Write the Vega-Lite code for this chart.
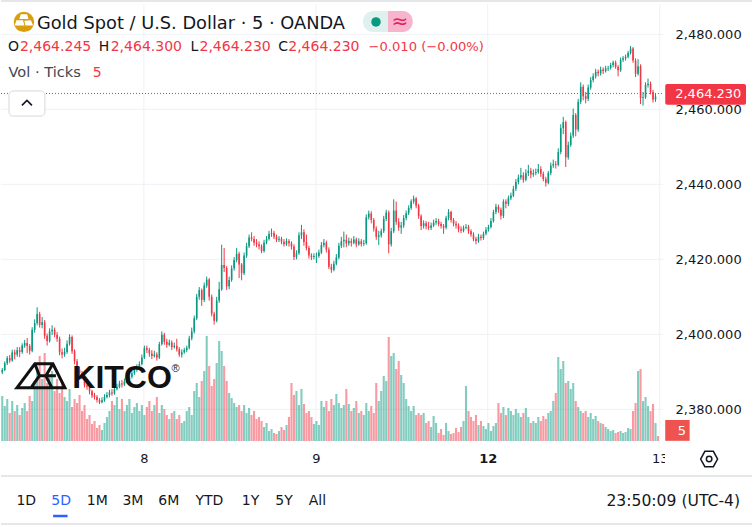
{"$schema":"https://vega.github.io/schema/vega-lite/v6.json","width":753,"height":527,"padding":0,"autosize":{"type":"fit","contains":"padding"},"background":"#ffffff","config":{"view":{"stroke":null},"text":{"font":"DejaVu Sans"},"axis":{"labelFont":"DejaVu Sans"}},
"datasets":{"bars":[
{"at":0.5,"o":2389.9,"h":2391,"l":2389.4,"c":2390.5,"v":45},{"at":1.5,"o":2390.5,"h":2392.8,"l":2390.2,"c":2392.3,"v":35},{"at":2.5,"o":2392.3,"h":2394.2,"l":2391.8,"c":2393.7,"v":42},{"at":3.5,"o":2393.7,"h":2394.5,"l":2392.4,"c":2393,"v":28},{"at":4.5,"o":2393,"h":2395.9,"l":2392.7,"c":2395.2,"v":40},{"at":5.5,"o":2395.2,"h":2395.9,"l":2393.3,"c":2394.6,"v":30},{"at":6.5,"o":2394.6,"h":2396.6,"l":2394,"c":2395.8,"v":36},{"at":7.5,"o":2395.8,"h":2396.6,"l":2393.9,"c":2395.3,"v":26},{"at":8.5,"o":2395.3,"h":2397.6,"l":2394.8,"c":2397,"v":33},{"at":9.5,"o":2397,"h":2398.5,"l":2396.4,"c":2397.7,"v":38},
{"at":10.5,"o":2397.7,"h":2399,"l":2395,"c":2396.9,"v":30},{"at":11.5,"o":2396.9,"h":2397.4,"l":2394.6,"c":2395.6,"v":45},{"at":12.5,"o":2395.6,"h":2401.9,"l":2395.2,"c":2401.2,"v":40},{"at":13.5,"o":2401.2,"h":2404,"l":2400.4,"c":2403,"v":60},{"at":14.5,"o":2403,"h":2407.2,"l":2402.4,"c":2405.4,"v":72},{"at":15.5,"o":2405.4,"h":2406,"l":2401.8,"c":2402.5,"v":85},{"at":16.5,"o":2402.5,"h":2404.6,"l":2401.6,"c":2403.2,"v":62},{"at":17.5,"o":2403.2,"h":2403.8,"l":2398.8,"c":2399.6,"v":88},{"at":18.5,"o":2399.6,"h":2400.2,"l":2397,"c":2398.2,"v":58},{"at":19.5,"o":2398.2,"h":2401.6,"l":2397.8,"c":2400.8,"v":64},
{"at":20.5,"o":2400.8,"h":2402.4,"l":2399.8,"c":2401.2,"v":70},{"at":21.5,"o":2401.2,"h":2401.8,"l":2399.2,"c":2399.9,"v":50},{"at":22.5,"o":2399.9,"h":2400.6,"l":2398,"c":2398.8,"v":62},{"at":23.5,"o":2398.8,"h":2399.4,"l":2394.4,"c":2395.2,"v":48},{"at":24.5,"o":2395.2,"h":2396.2,"l":2393.6,"c":2394.6,"v":58},{"at":25.5,"o":2394.6,"h":2396.4,"l":2394,"c":2395.3,"v":44},{"at":26.5,"o":2395.3,"h":2398.4,"l":2394.8,"c":2397.5,"v":40},{"at":27.5,"o":2397.5,"h":2400,"l":2397,"c":2399.3,"v":52},{"at":28.5,"o":2399.3,"h":2399.7,"l":2394.8,"c":2395.5,"v":34},{"at":29.5,"o":2395.5,"h":2396,"l":2392,"c":2392.8,"v":42},
{"at":30.5,"o":2392.8,"h":2393.4,"l":2390,"c":2390.6,"v":38},{"at":31.5,"o":2390.6,"h":2391.4,"l":2389,"c":2389.7,"v":46},{"at":32.5,"o":2389.7,"h":2390.2,"l":2388,"c":2388.6,"v":30},{"at":33.5,"o":2388.6,"h":2389,"l":2385.8,"c":2386.4,"v":36},{"at":34.5,"o":2386.4,"h":2387.2,"l":2385.2,"c":2386,"v":22},{"at":35.5,"o":2386,"h":2386.6,"l":2384,"c":2384.8,"v":26},{"at":36.5,"o":2384.8,"h":2385.2,"l":2383,"c":2383.7,"v":17},{"at":37.5,"o":2383.7,"h":2384.4,"l":2382.6,"c":2383.3,"v":20},{"at":38.5,"o":2383.3,"h":2383.8,"l":2381.8,"c":2382.5,"v":13},{"at":39.5,"o":2382.5,"h":2383,"l":2381.4,"c":2381.9,"v":16},
{"at":40.5,"o":2381.9,"h":2383.2,"l":2381.6,"c":2382.4,"v":11},{"at":41.5,"o":2382.4,"h":2384,"l":2382,"c":2383.3,"v":18},{"at":42.5,"o":2383.3,"h":2384.6,"l":2382.9,"c":2383.8,"v":24},{"at":43.5,"o":2383.8,"h":2385.2,"l":2383.2,"c":2384.5,"v":30},{"at":44.5,"o":2384.5,"h":2385.4,"l":2383.6,"c":2384.2,"v":40},{"at":45.5,"o":2384.2,"h":2386,"l":2383.9,"c":2385.4,"v":36},{"at":46.5,"o":2385.4,"h":2386.8,"l":2385,"c":2386,"v":44},{"at":47.5,"o":2386,"h":2387.6,"l":2385.6,"c":2386.9,"v":32},{"at":48.5,"o":2386.9,"h":2387.8,"l":2385.8,"c":2386.6,"v":42},{"at":49.5,"o":2386.6,"h":2388.2,"l":2386.2,"c":2387.4,"v":30},
{"at":50.5,"o":2387.4,"h":2388.6,"l":2387,"c":2387.8,"v":36},{"at":51.5,"o":2387.8,"h":2389.4,"l":2387.4,"c":2388.7,"v":42},{"at":52.5,"o":2388.7,"h":2390.4,"l":2388.2,"c":2389.6,"v":28},{"at":53.5,"o":2389.6,"h":2391.2,"l":2389.2,"c":2390.5,"v":34},{"at":54.5,"o":2390.5,"h":2392,"l":2390,"c":2391.2,"v":38},{"at":55.5,"o":2391.2,"h":2392.8,"l":2390.8,"c":2392.1,"v":30},{"at":56.5,"o":2392.1,"h":2394.6,"l":2391.7,"c":2393.8,"v":36},{"at":57.5,"o":2393.8,"h":2397,"l":2393.4,"c":2396.3,"v":26},{"at":58.5,"o":2396.3,"h":2397,"l":2395,"c":2395.8,"v":34},{"at":59.5,"o":2395.8,"h":2396.4,"l":2394,"c":2394.9,"v":40},
{"at":60.5,"o":2394.9,"h":2395.8,"l":2393.4,"c":2394.2,"v":30},{"at":61.5,"o":2394.2,"h":2395.6,"l":2393.8,"c":2394.6,"v":36},{"at":62.5,"o":2394.6,"h":2395.2,"l":2393,"c":2393.8,"v":44},{"at":63.5,"o":2393.8,"h":2398,"l":2393.4,"c":2397.4,"v":28},{"at":64.5,"o":2397.4,"h":2400.8,"l":2397,"c":2399.9,"v":36},{"at":65.5,"o":2399.9,"h":2400.4,"l":2397.2,"c":2398,"v":32},{"at":66.5,"o":2398,"h":2398.8,"l":2396.4,"c":2397.2,"v":26},{"at":67.5,"o":2397.2,"h":2398.6,"l":2396.8,"c":2397.8,"v":22},{"at":68.5,"o":2397.8,"h":2398.4,"l":2395.8,"c":2396.6,"v":28},{"at":69.5,"o":2396.6,"h":2397.8,"l":2396.2,"c":2396.9,"v":30},
{"at":70.5,"o":2396.9,"h":2398.8,"l":2395.4,"c":2396,"v":22},{"at":71.5,"o":2396,"h":2396.6,"l":2394,"c":2394.6,"v":26},{"at":72.5,"o":2394.6,"h":2396,"l":2393.8,"c":2395.2,"v":18},{"at":73.5,"o":2395.2,"h":2396.4,"l":2394.8,"c":2395.8,"v":20},{"at":74.5,"o":2395.8,"h":2397,"l":2395.2,"c":2396.4,"v":30},{"at":75.5,"o":2396.4,"h":2399.6,"l":2396,"c":2398.9,"v":34},{"at":76.5,"o":2398.9,"h":2401.8,"l":2398.4,"c":2400.8,"v":26},{"at":77.5,"o":2400.8,"h":2405,"l":2400.2,"c":2404.3,"v":50},{"at":78.5,"o":2404.3,"h":2410.8,"l":2403.8,"c":2410,"v":58},{"at":79.5,"o":2410,"h":2412.6,"l":2409.2,"c":2411.8,"v":44},
{"at":80.5,"o":2411.8,"h":2412.2,"l":2407.6,"c":2409.2,"v":60},{"at":81.5,"o":2409.2,"h":2413.8,"l":2408.6,"c":2413,"v":70},{"at":82.5,"o":2413,"h":2415.4,"l":2412.4,"c":2414.6,"v":105},{"at":83.5,"o":2414.6,"h":2415,"l":2409,"c":2410,"v":75},{"at":84.5,"o":2410,"h":2410.6,"l":2404.8,"c":2405.5,"v":55},{"at":85.5,"o":2405.5,"h":2406,"l":2402.6,"c":2403.6,"v":62},{"at":86.5,"o":2403.6,"h":2410,"l":2403.2,"c":2409,"v":78},{"at":87.5,"o":2409,"h":2414,"l":2408.4,"c":2412,"v":100},{"at":88.5,"o":2412,"h":2423.9,"l":2411.6,"c":2418.5,"v":90},{"at":89.5,"o":2418.5,"h":2423,"l":2416.6,"c":2417.7,"v":75},
{"at":90.5,"o":2417.7,"h":2418.2,"l":2411.8,"c":2412.8,"v":60},{"at":91.5,"o":2412.8,"h":2415.4,"l":2412,"c":2414.5,"v":48},{"at":92.5,"o":2414.5,"h":2418.4,"l":2414,"c":2417.6,"v":43},{"at":93.5,"o":2417.6,"h":2420.6,"l":2417,"c":2419.8,"v":38},{"at":94.5,"o":2419.8,"h":2423,"l":2419.2,"c":2421.5,"v":34},{"at":95.5,"o":2421.5,"h":2422,"l":2415,"c":2418.6,"v":36},{"at":96.5,"o":2418.6,"h":2419,"l":2414.4,"c":2416.3,"v":30},{"at":97.5,"o":2416.3,"h":2421.8,"l":2415.8,"c":2421,"v":36},{"at":98.5,"o":2421,"h":2424.4,"l":2420.4,"c":2423.5,"v":28},{"at":99.5,"o":2423.5,"h":2426.6,"l":2423,"c":2425.8,"v":33},
{"at":100.5,"o":2425.8,"h":2427.2,"l":2424.8,"c":2425.4,"v":26},{"at":101.5,"o":2425.4,"h":2426.2,"l":2423.6,"c":2424.4,"v":30},{"at":102.5,"o":2424.4,"h":2425.4,"l":2423.2,"c":2424,"v":22},{"at":103.5,"o":2424,"h":2424.8,"l":2422.6,"c":2423.5,"v":24},{"at":104.5,"o":2423.5,"h":2424,"l":2421.6,"c":2422.2,"v":20},{"at":105.5,"o":2422.2,"h":2425.2,"l":2421.8,"c":2424.5,"v":14},{"at":106.5,"o":2424.5,"h":2426.2,"l":2424,"c":2425.4,"v":18},{"at":107.5,"o":2425.4,"h":2427.6,"l":2425,"c":2426.8,"v":10},{"at":108.5,"o":2426.8,"h":2428.2,"l":2426,"c":2427,"v":12},{"at":109.5,"o":2427,"h":2427.6,"l":2425.4,"c":2426,"v":8},
{"at":110.5,"o":2426,"h":2426.6,"l":2424.6,"c":2425.2,"v":7},{"at":111.5,"o":2425.2,"h":2426.2,"l":2424.6,"c":2425.5,"v":10},{"at":112.5,"o":2425.5,"h":2426,"l":2424,"c":2424.7,"v":14},{"at":113.5,"o":2424.7,"h":2425.4,"l":2423.4,"c":2424,"v":11},{"at":114.5,"o":2424,"h":2425.6,"l":2423.6,"c":2424.9,"v":16},{"at":115.5,"o":2424.9,"h":2425.4,"l":2423.4,"c":2424.3,"v":24},{"at":116.5,"o":2424.3,"h":2424.8,"l":2422.6,"c":2423.4,"v":58},{"at":117.5,"o":2423.4,"h":2424,"l":2419.8,"c":2420.6,"v":46},{"at":118.5,"o":2420.6,"h":2422.4,"l":2420,"c":2421.6,"v":50},{"at":119.5,"o":2421.6,"h":2427.2,"l":2421.2,"c":2426.4,"v":36},
{"at":120.5,"o":2426.4,"h":2429.2,"l":2425.4,"c":2427.2,"v":52},{"at":121.5,"o":2427.2,"h":2428,"l":2423.6,"c":2424.6,"v":37},{"at":122.5,"o":2424.6,"h":2426.6,"l":2422.4,"c":2423,"v":28},{"at":123.5,"o":2423,"h":2423.6,"l":2420.2,"c":2421,"v":30},{"at":124.5,"o":2421,"h":2421.6,"l":2419.8,"c":2420.6,"v":24},{"at":125.5,"o":2420.6,"h":2421.6,"l":2420,"c":2420.9,"v":17},{"at":126.5,"o":2420.9,"h":2421.8,"l":2419,"c":2420.9,"v":20},{"at":127.5,"o":2420.9,"h":2422.6,"l":2420.4,"c":2421.8,"v":16},{"at":128.5,"o":2421.8,"h":2424.6,"l":2421.4,"c":2423.8,"v":40},{"at":129.5,"o":2423.8,"h":2425.4,"l":2423.2,"c":2424.4,"v":34},
{"at":130.5,"o":2424.4,"h":2425,"l":2421.8,"c":2422.6,"v":40},{"at":131.5,"o":2422.6,"h":2423.2,"l":2417.4,"c":2418,"v":30},{"at":132.5,"o":2418,"h":2418.8,"l":2416.4,"c":2417.2,"v":42},{"at":133.5,"o":2417.2,"h":2419.6,"l":2416.8,"c":2418.8,"v":36},{"at":134.5,"o":2418.8,"h":2421.4,"l":2418.4,"c":2420.5,"v":47},{"at":135.5,"o":2420.5,"h":2424.4,"l":2420,"c":2423.6,"v":38},{"at":136.5,"o":2423.6,"h":2426,"l":2423,"c":2424.8,"v":33},{"at":137.5,"o":2424.8,"h":2427.4,"l":2423.2,"c":2425.2,"v":36},{"at":138.5,"o":2425.2,"h":2426.6,"l":2423.2,"c":2424.2,"v":52},{"at":139.5,"o":2424.2,"h":2425.8,"l":2423.6,"c":2424.9,"v":37},
{"at":140.5,"o":2424.9,"h":2425.6,"l":2423.4,"c":2424.4,"v":30},{"at":141.5,"o":2424.4,"h":2426.2,"l":2424,"c":2425.3,"v":33},{"at":142.5,"o":2425.3,"h":2425.8,"l":2423.2,"c":2424,"v":40},{"at":143.5,"o":2424,"h":2425.6,"l":2423.6,"c":2424.8,"v":28},{"at":144.5,"o":2424.8,"h":2425.4,"l":2423.4,"c":2424.1,"v":30},{"at":145.5,"o":2424.1,"h":2425.2,"l":2423.6,"c":2424.3,"v":26},{"at":146.5,"o":2424.3,"h":2432,"l":2423.9,"c":2431.2,"v":38},{"at":147.5,"o":2431.2,"h":2433,"l":2430.6,"c":2432.2,"v":30},{"at":148.5,"o":2432.2,"h":2432.8,"l":2429.6,"c":2430.5,"v":35},{"at":149.5,"o":2430.5,"h":2431,"l":2427.4,"c":2428.2,"v":28},
{"at":150.5,"o":2428.2,"h":2428.8,"l":2425.2,"c":2426,"v":58},{"at":151.5,"o":2426,"h":2427.6,"l":2423.8,"c":2426.4,"v":40},{"at":152.5,"o":2426.4,"h":2428.2,"l":2425.8,"c":2427.5,"v":50},{"at":153.5,"o":2427.5,"h":2431.6,"l":2427,"c":2430.8,"v":65},{"at":154.5,"o":2430.8,"h":2433.2,"l":2430.2,"c":2432.5,"v":60},{"at":155.5,"o":2432.5,"h":2433,"l":2421.6,"c":2424,"v":104},{"at":156.5,"o":2424,"h":2428.4,"l":2423.4,"c":2427.5,"v":85},{"at":157.5,"o":2427.5,"h":2436,"l":2427,"c":2433,"v":88},{"at":158.5,"o":2433,"h":2435.4,"l":2429.2,"c":2430,"v":72},{"at":159.5,"o":2430,"h":2431,"l":2427.6,"c":2428.5,"v":80},
{"at":160.5,"o":2428.5,"h":2430,"l":2426.8,"c":2429,"v":66},{"at":161.5,"o":2429,"h":2431.8,"l":2428.4,"c":2431,"v":58},{"at":162.5,"o":2431,"h":2433,"l":2430.4,"c":2432.3,"v":42},{"at":163.5,"o":2432.3,"h":2434.4,"l":2431.8,"c":2433.7,"v":35},{"at":164.5,"o":2433.7,"h":2436,"l":2433.2,"c":2435.4,"v":30},{"at":165.5,"o":2435.4,"h":2437,"l":2434.8,"c":2436.2,"v":35},{"at":166.5,"o":2436.2,"h":2436.6,"l":2433.6,"c":2434.3,"v":26},{"at":167.5,"o":2434.3,"h":2434.8,"l":2430.8,"c":2431.5,"v":28},{"at":168.5,"o":2431.5,"h":2432,"l":2427.8,"c":2428.9,"v":26},{"at":169.5,"o":2428.9,"h":2430.4,"l":2428.2,"c":2429.6,"v":28},
{"at":170.5,"o":2429.6,"h":2430.2,"l":2428,"c":2428.8,"v":18},{"at":171.5,"o":2428.8,"h":2430,"l":2427.8,"c":2428.4,"v":20},{"at":172.5,"o":2428.4,"h":2429.8,"l":2427.8,"c":2429,"v":14},{"at":173.5,"o":2429,"h":2430.6,"l":2428.6,"c":2429.8,"v":25},{"at":174.5,"o":2429.8,"h":2431,"l":2429.2,"c":2430.2,"v":18},{"at":175.5,"o":2430.2,"h":2430.8,"l":2428.8,"c":2429.4,"v":8},{"at":176.5,"o":2429.4,"h":2430,"l":2428.2,"c":2428.9,"v":12},{"at":177.5,"o":2428.9,"h":2429.4,"l":2426.8,"c":2428.5,"v":6},{"at":178.5,"o":2428.5,"h":2431.6,"l":2428,"c":2431,"v":18},{"at":179.5,"o":2431,"h":2433.4,"l":2430.4,"c":2432.6,"v":10},
{"at":180.5,"o":2432.6,"h":2433,"l":2429.8,"c":2430.5,"v":7},{"at":181.5,"o":2430.5,"h":2431,"l":2428.8,"c":2429.5,"v":8},{"at":182.5,"o":2429.5,"h":2430.2,"l":2428.2,"c":2429,"v":13},{"at":183.5,"o":2429,"h":2429.6,"l":2427.2,"c":2428,"v":9},{"at":184.5,"o":2428,"h":2428.8,"l":2427,"c":2427.6,"v":14},{"at":185.5,"o":2427.6,"h":2429,"l":2427.2,"c":2428.4,"v":20},{"at":186.5,"o":2428.4,"h":2429.4,"l":2428,"c":2428.7,"v":55},{"at":187.5,"o":2428.7,"h":2429.2,"l":2426.8,"c":2427.5,"v":30},{"at":188.5,"o":2427.5,"h":2428,"l":2426,"c":2426.6,"v":24},{"at":189.5,"o":2426.6,"h":2427.2,"l":2424.8,"c":2425.4,"v":20},
{"at":190.5,"o":2425.4,"h":2426,"l":2424,"c":2424.9,"v":26},{"at":191.5,"o":2424.9,"h":2426.8,"l":2424.4,"c":2426,"v":16},{"at":192.5,"o":2426,"h":2426.6,"l":2425,"c":2425.7,"v":20},{"at":193.5,"o":2425.7,"h":2427.4,"l":2425.2,"c":2426.8,"v":15},{"at":194.5,"o":2426.8,"h":2428.6,"l":2426.4,"c":2427.9,"v":12},{"at":195.5,"o":2427.9,"h":2429.2,"l":2427.4,"c":2428.6,"v":18},{"at":196.5,"o":2428.6,"h":2431,"l":2428.2,"c":2430.2,"v":10},{"at":197.5,"o":2430.2,"h":2433.2,"l":2429.8,"c":2432.6,"v":15},{"at":198.5,"o":2432.6,"h":2434.8,"l":2432,"c":2434,"v":18},{"at":199.5,"o":2434,"h":2434.6,"l":2432.4,"c":2433.2,"v":38},
{"at":200.5,"o":2433.2,"h":2433.8,"l":2430.6,"c":2431.6,"v":28},{"at":201.5,"o":2431.6,"h":2436,"l":2431,"c":2435.4,"v":34},{"at":202.5,"o":2435.4,"h":2436,"l":2433.6,"c":2434.8,"v":26},{"at":203.5,"o":2434.8,"h":2437,"l":2434.2,"c":2436.3,"v":33},{"at":204.5,"o":2436.3,"h":2437.8,"l":2435.8,"c":2437,"v":30},{"at":205.5,"o":2437,"h":2439.6,"l":2436.6,"c":2438.8,"v":26},{"at":206.5,"o":2438.8,"h":2441.4,"l":2438.2,"c":2440.6,"v":32},{"at":207.5,"o":2440.6,"h":2442.6,"l":2440,"c":2441.8,"v":28},{"at":208.5,"o":2441.8,"h":2444.4,"l":2441.2,"c":2442.4,"v":24},{"at":209.5,"o":2442.4,"h":2443.2,"l":2440.4,"c":2441.2,"v":28},
{"at":210.5,"o":2441.2,"h":2444,"l":2440.8,"c":2443,"v":33},{"at":211.5,"o":2443,"h":2445.2,"l":2442.2,"c":2443.6,"v":24},{"at":212.5,"o":2443.6,"h":2444.4,"l":2441.6,"c":2442.6,"v":18},{"at":213.5,"o":2442.6,"h":2444,"l":2442,"c":2443,"v":20},{"at":214.5,"o":2443,"h":2444.2,"l":2442.4,"c":2443.3,"v":18},{"at":215.5,"o":2443.3,"h":2445.4,"l":2442.8,"c":2444.1,"v":24},{"at":216.5,"o":2444.1,"h":2444.8,"l":2442,"c":2442.8,"v":20},{"at":217.5,"o":2442.8,"h":2443.4,"l":2440.8,"c":2441.4,"v":25},{"at":218.5,"o":2441.4,"h":2442,"l":2439.4,"c":2440.4,"v":22},{"at":219.5,"o":2440.4,"h":2443.6,"l":2440,"c":2443,"v":28},
{"at":220.5,"o":2443,"h":2445.8,"l":2442.4,"c":2445,"v":30},{"at":221.5,"o":2445,"h":2446.6,"l":2444.4,"c":2445.4,"v":40},{"at":222.5,"o":2445.4,"h":2446.2,"l":2444.2,"c":2445.2,"v":48},{"at":223.5,"o":2445.2,"h":2449.6,"l":2444.8,"c":2448.6,"v":84},{"at":224.5,"o":2448.6,"h":2456,"l":2448,"c":2455,"v":72},{"at":225.5,"o":2455,"h":2458,"l":2453.4,"c":2456.6,"v":80},{"at":226.5,"o":2456.6,"h":2457,"l":2444.6,"c":2447.2,"v":58},{"at":227.5,"o":2447.2,"h":2451.4,"l":2446.6,"c":2450.5,"v":60},{"at":228.5,"o":2450.5,"h":2453.8,"l":2450,"c":2453,"v":52},{"at":229.5,"o":2453,"h":2460.2,"l":2452.4,"c":2458.5,"v":58},
{"at":230.5,"o":2458.5,"h":2459,"l":2452.8,"c":2454.6,"v":40},{"at":231.5,"o":2454.6,"h":2462.8,"l":2454,"c":2462,"v":34},{"at":232.5,"o":2462,"h":2467.2,"l":2461.4,"c":2466,"v":30},{"at":233.5,"o":2466,"h":2466.6,"l":2462.4,"c":2463.5,"v":28},{"at":234.5,"o":2463.5,"h":2464.6,"l":2461.6,"c":2462.8,"v":30},{"at":235.5,"o":2462.8,"h":2466.6,"l":2462.2,"c":2465.8,"v":24},{"at":236.5,"o":2465.8,"h":2468.6,"l":2465.2,"c":2467.8,"v":28},{"at":237.5,"o":2467.8,"h":2469.6,"l":2467.2,"c":2468.8,"v":22},{"at":238.5,"o":2468.8,"h":2470.8,"l":2468.2,"c":2470,"v":25},{"at":239.5,"o":2470,"h":2470.6,"l":2468.8,"c":2469.6,"v":20},
{"at":240.5,"o":2469.6,"h":2471.4,"l":2469,"c":2470.6,"v":18},{"at":241.5,"o":2470.6,"h":2471.2,"l":2469.4,"c":2470.2,"v":17},{"at":242.5,"o":2470.2,"h":2471.6,"l":2469.8,"c":2470.9,"v":14},{"at":243.5,"o":2470.9,"h":2471.6,"l":2470.2,"c":2471,"v":12},{"at":244.5,"o":2471,"h":2472.4,"l":2470.6,"c":2471.8,"v":10},{"at":245.5,"o":2471.8,"h":2473,"l":2471.2,"c":2472.5,"v":11},{"at":246.5,"o":2472.5,"h":2473,"l":2470.8,"c":2471.3,"v":8},{"at":247.5,"o":2471.3,"h":2471.8,"l":2468.8,"c":2470.4,"v":9},{"at":248.5,"o":2470.4,"h":2473.8,"l":2470,"c":2473.2,"v":10},{"at":249.5,"o":2473.2,"h":2474.2,"l":2472.6,"c":2473.6,"v":8},
{"at":250.5,"o":2473.6,"h":2474.6,"l":2473,"c":2474,"v":9},{"at":251.5,"o":2474,"h":2475.6,"l":2473.6,"c":2475,"v":13},{"at":252.5,"o":2475,"h":2476.9,"l":2474.6,"c":2476.2,"v":12},{"at":253.5,"o":2476.2,"h":2476.6,"l":2472.4,"c":2473,"v":30},{"at":254.5,"o":2473,"h":2473.6,"l":2468.6,"c":2469.5,"v":38},{"at":255.5,"o":2469.5,"h":2473.4,"l":2469,"c":2471.5,"v":70},{"at":256.5,"o":2471.5,"h":2472,"l":2461.4,"c":2463,"v":72},{"at":257.5,"o":2463,"h":2464.6,"l":2461,"c":2463.2,"v":40},{"at":258.5,"o":2463.2,"h":2467.2,"l":2462.8,"c":2466.5,"v":44},{"at":259.5,"o":2466.5,"h":2468.2,"l":2465.8,"c":2466.8,"v":35},
{"at":260.5,"o":2466.8,"h":2467.4,"l":2464,"c":2464.6,"v":30},{"at":261.5,"o":2464.6,"h":2465.2,"l":2461.8,"c":2462.6,"v":37},{"at":262.5,"o":2462.6,"h":2464.2,"l":2462,"c":2463.4,"v":18},{"at":263.5,"o":2464.245,"h":2464.3,"l":2464.23,"c":2464.23,"v":5}
]},
"encoding":{"x":{"field":"at","type":"quantitative","scale":{"domain":[0,301.2],"nice":false,"zero":false},"axis":{"values":[57.3,126.3,195.2,264.2],"labelExpr":"datum.value<60?'8':datum.value<130?'9':datum.value<200?'12':'13'","offset":-78,"domain":false,"ticks":false,"grid":false,"title":null,"labelPadding":3,"labelFontSize":13,"labelColor":"#131722","labelFontWeight":{"condition":{"test":"datum.value>190&&datum.value<200","value":"bold"},"value":"normal"}}},"y":{"field":"level","type":"quantitative","scale":{"domain":[2348.62,2489.15],"nice":false,"zero":false},"axis":null}},
"layer":[
{"encoding":{"y":{"field":"level","type":"quantitative","scale":{"domain":[2348.62,2489.15],"nice":false,"zero":false},"axis":{"values":[2380,2400,2420,2440,2460,2480],"format":",.3f","orient":"right","offset":-77,"domain":false,"ticks":false,"grid":false,"title":null,"labelPadding":0,"labelFontSize":13,"labelColor":"#131722","labelBaseline":"middle"}}},
"layer":[
{"data":{"values":[{"level":2380,"at":0,"end":265.6},{"level":2400,"at":0,"end":265.6},{"level":2420,"at":0,"end":265.6},{"level":2440,"at":0,"end":265.6},{"level":2460,"at":0,"end":265.6},{"level":2480,"at":0,"end":265.6}]},"mark":{"type":"rule","stroke":"#eff1f5","strokeWidth":1},"encoding":{"x2":{"field":"end"}}},
{"data":{"values":[{"at":57.3,"level":2488,"top":2371.5},{"at":126.3,"level":2488,"top":2371.5},{"at":195.2,"level":2488,"top":2371.5},{"at":264.2,"level":2488,"top":2371.5}]},"mark":{"type":"rule","stroke":"#eff1f5","strokeWidth":1},"encoding":{"y2":{"field":"top"}}},
{"data":{"values":[{"level":2488.9,"at":0,"end":301.2},{"level":2362.2,"at":0,"end":301.2},{"level":2349.4,"at":0,"end":301.2}]},"mark":{"type":"rule","stroke":"#dcdee3","strokeWidth":1.5},"encoding":{"x2":{"field":"end"}}}
]},
{"data":{"name":"bars"},"mark":{"type":"rule","strokeWidth":2.1,"opacity":0.5},"encoding":{"y":{"field":"v","type":"quantitative","scale":{"domain":[-86,441],"nice":false,"zero":false},"axis":null},"y2":{"datum":0},"color":{"condition":{"test":"datum.c>=datum.o","value":"#089981"},"value":"#f23645"}}},
{"layer":[
{"data":{"name":"bars"},"mark":{"type":"rule","strokeWidth":1},"encoding":{"y":{"field":"l","type":"quantitative","scale":{"domain":[2348.62,2489.15],"nice":false,"zero":false},"axis":null},"y2":{"field":"h"},"color":{"condition":{"test":"datum.c>=datum.o","value":"#089981"},"value":"#f23645"}}},
{"data":{"name":"bars"},"mark":{"type":"rule","strokeWidth":1.6},"encoding":{"y":{"field":"o","type":"quantitative","scale":{"domain":[2348.62,2489.15],"nice":false,"zero":false},"axis":null},"y2":{"field":"c"},"color":{"condition":{"test":"datum.c>=datum.o","value":"#089981"},"value":"#f23645"}}},
{"data":{"values":[{"level":2464.23,"at":0,"end":265.6}]},"mark":{"type":"rule","stroke":"#f23645","strokeWidth":1,"strokeDash":[1,2]},"encoding":{"x2":{"field":"end"}}},
{"data":{"values":[{"at":266.3,"end":272,"level":2370,"bottom":2363}]},"mark":{"type":"rect","fill":"#ffffff"},"encoding":{"x2":{"field":"end"},"y2":{"field":"bottom"}}},
{"data":{"values":[{"at":266.4,"end":298.8,"level":2466.75,"bottom":2461.2}]},"mark":{"type":"rect","fill":"#f23645","cornerRadius":2},"encoding":{"x2":{"field":"end"},"y2":{"field":"bottom"}}},
{"data":{"values":[{"at":266.4,"end":276.2,"level":2377.15,"bottom":2371.6}]},"mark":{"type":"rect","fill":"#ef5350"},"encoding":{"x2":{"field":"end"},"y2":{"field":"bottom"}}},
{"data":{"values":[{"at":3.2,"end":17.6,"level":2464.9,"bottom":2458.2}]},"mark":{"type":"rect","fill":"#ffffff","stroke":"#d6d8dd","strokeWidth":1,"cornerRadius":4},"encoding":{"x2":{"field":"end"},"y2":{"field":"bottom"}}},
{"data":{"values":[{"at":10.4,"level":2461.7}]},"mark":{"type":"point","shape":"M-.5 .25L0 -.25L.5 .25","size":400,"filled":false,"stroke":"#131722","strokeWidth":1.6,"opacity":1}},
{"data":{"values":[{"at":145.2,"end":155.2,"level":2486.2,"bottom":2480.6}]},"mark":{"type":"rect","fill":"#def1ee","cornerRadiusTopLeft":10,"cornerRadiusBottomLeft":10},"encoding":{"x2":{"field":"end"},"y2":{"field":"bottom"}}},
{"data":{"values":[{"at":155.2,"end":165.1,"level":2486.2,"bottom":2480.6}]},"mark":{"type":"rect","fill":"#f8b3cd","cornerRadiusTopRight":10,"cornerRadiusBottomRight":10},"encoding":{"x2":{"field":"end"},"y2":{"field":"bottom"}}},
{"data":{"values":[{"at":150.4,"level":2483.3}]},"mark":{"type":"point","shape":"circle","size":90,"filled":true,"fill":"#089981","opacity":1}},
{"data":{"values":[{"at":160,"level":2483.3,"text":"≈"}]},"mark":{"type":"text","fontSize":20,"fill":"#e91e63","align":"center","baseline":"middle"},"encoding":{"text":{"field":"text"}}},
{"data":{"values":[{"at":9.2,"level":2483.3}]},"mark":{"type":"point","shape":"circle","size":415,"filled":true,"fill":"#d99e0b","opacity":1}},
{"data":{"values":[{"at":9.2,"level":2483.6}]},"mark":{"type":"point","shape":"M-.14 -.28L.14 -.28L.2 -.08L-.2 -.08ZM-.4 .2L-.33 -.02L-.04 -.02L.02 .2ZM.06 .2L.02 .0L.3 -.02L.4 .2Z","size":2116,"filled":true,"fill":"#ffffff","opacity":1}},
{"data":{"values":[{"at":16,"level":2389.2}]},"mark":{"type":"point","shape":"M-.48 .26L-.12 -.22L.24 -.22L.48 .26ZM-.2 .26L-.03 .02L.3 .02M-.03 .02L-.12 -.22M.24 -.22L.1 .02M.1 .02L.22 .26","size":10000,"filled":false,"stroke":"#111111","strokeWidth":3,"opacity":1}},
{"data":{"values":[{"at":28.6,"level":2388.4,"text":"KITCO"}]},"mark":{"type":"text","font":"Liberation Sans","fontWeight":"bold","fontSize":32,"fill":"#111111","align":"left","baseline":"middle"},"encoding":{"text":{"field":"text"}}},
{"data":{"values":[{"at":70,"level":2390.8,"text":"®"}]},"mark":{"type":"text","font":"Liberation Sans","fontSize":11,"fill":"#222222","align":"center","baseline":"middle"},"encoding":{"text":{"field":"text"}}},
{"data":{"values":[{"at":14.4,"level":2482.75,"text":"Gold Spot / U.S. Dollar · 5 · OANDA"}]},"mark":{"type":"text","fontSize":17.8,"fill":"#131722","align":"left","baseline":"middle"},"encoding":{"text":{"field":"text"}}},
{"data":{"values":[{"at":2.8,"level":2476.6,"text":"O"},{"at":39.2,"level":2476.6,"text":"H"},{"at":76,"level":2476.6,"text":"L"},{"at":111.2,"level":2476.6,"text":"C"}]},"mark":{"type":"text","fontSize":14,"fill":"#131722","align":"left","baseline":"middle"},"encoding":{"text":{"field":"text"}}},
{"data":{"values":[{"at":7.6,"level":2476.6,"text":"2,464.245"},{"at":44,"level":2476.6,"text":"2,464.300"},{"at":79.6,"level":2476.6,"text":"2,464.230"},{"at":115.2,"level":2476.6,"text":"2,464.230"},{"at":36.8,"level":2469.7,"text":"5"}]},"mark":{"type":"text","fontSize":14,"fill":"#f23645","align":"left","baseline":"middle"},"encoding":{"text":{"field":"text"}}},
{"data":{"values":[{"at":147.4,"level":2476.6,"text":"−0.010 (−0.00%)"}]},"mark":{"type":"text","fontSize":13.1,"fill":"#f23645","align":"left","baseline":"middle"},"encoding":{"text":{"field":"text"}}},
{"data":{"values":[{"at":3,"level":2469.7,"text":"Vol · Ticks"}]},"mark":{"type":"text","fontSize":14.6,"fill":"#434651","align":"left","baseline":"middle"},"encoding":{"text":{"field":"text"}}},
{"data":{"values":[{"at":270.4,"level":2464.2,"text":"2,464.230"},{"at":271.4,"level":2374.3,"text":"5"}]},"mark":{"type":"text","fontSize":13,"fill":"#ffffff","align":"left","baseline":"middle"},"encoding":{"text":{"field":"text"}}},
{"data":{"values":[{"at":6.2,"level":2355.6,"text":"1D"},{"at":34.4,"level":2355.6,"text":"1M"},{"at":48.7,"level":2355.6,"text":"3M"},{"at":63.1,"level":2355.6,"text":"6M"},{"at":78,"level":2355.6,"text":"YTD"},{"at":96.6,"level":2355.6,"text":"1Y"},{"at":110,"level":2355.6,"text":"5Y"},{"at":123.4,"level":2355.6,"text":"All"}]},"mark":{"type":"text","fontSize":14,"fill":"#131722","align":"left","baseline":"middle"},"encoding":{"text":{"field":"text"}}},
{"data":{"values":[{"at":242.8,"level":2355.6,"text":"23:50:09 (UTC-4)"}]},"mark":{"type":"text","fontSize":15.6,"fill":"#131722","align":"left","baseline":"middle"},"encoding":{"text":{"field":"text"}}},
{"data":{"values":[{"at":20.2,"level":2355.6,"text":"5D"}]},"mark":{"type":"text","fontSize":14,"fill":"#2962ff","align":"left","baseline":"middle"},"encoding":{"text":{"field":"text"}}},
{"data":{"values":[{"at":20.9,"end":26.7,"level":2351.55}]},"mark":{"type":"rule","stroke":"#2962ff","strokeWidth":2.5},"encoding":{"x2":{"field":"end"}}},
{"data":{"values":[{"at":284,"level":2366.75}]},"mark":{"type":"point","shape":"M-.5 0L-.25 -.45L.25 -.45L.5 0L.25 .45L-.25 .45Z","size":1156,"filled":false,"stroke":"#131722","strokeWidth":1.5,"opacity":1}},
{"data":{"values":[{"at":284,"level":2366.75}]},"mark":{"type":"point","shape":"circle","size":30,"filled":false,"stroke":"#131722","strokeWidth":1.5,"opacity":1}}
]}
],
"resolve":{"scale":{"y":"independent"}}}
